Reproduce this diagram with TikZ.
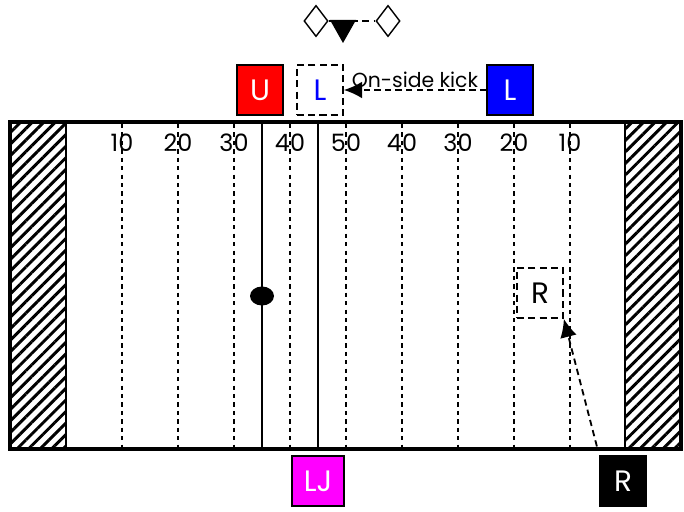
\documentclass[tikz,border=0pt]{standalone}
\usepackage{fontspec}
\setmainfont{Poppins}
\usetikzlibrary{arrows.meta,shapes.geometric,patterns.meta}
\definecolor{offred}{RGB}{255, 0, 0}
\definecolor{offblue}{RGB}{0, 0, 255}
\definecolor{offmagenta}{RGB}{255, 0, 255}

\tikzset{
  official/.style={draw=black, line width=1.2pt, minimum width=1.15cm, minimum height=1.25cm,
    inner sep=0pt, text=white, font=\fontsize{21}{21}\selectfont},
  ghost/.style={draw=black, dash pattern=on 5pt off 3pt, line width=1.2pt, minimum width=1.15cm,
    minimum height=1.25cm, inner sep=0pt, font=\fontsize{21}{21}\selectfont},
  chain/.style={diamond, draw=black, line width=1pt, minimum width=0.6cm, minimum height=0.78cm, inner sep=0pt},
  yardline/.style={dashed, line width=0.8pt},
  yardnum/.style={font=\fontsize{17}{17}\selectfont, inner sep=0pt},
  kick/.style={dash pattern=on 4.5pt off 3pt, line width=1.3pt, -{Latex[length=13pt,width=12pt]}},
}

\begin{document}
\begin{tikzpicture}[x=0.025cm,y=-0.025cm]
\useasboundingbox (0,0) rectangle (684,512);
% End zones
\foreach \xa/\xb in {10/66, 625/681} {
    \pattern[pattern={Lines[angle=45,distance=5.8pt,line width=2.1pt]}] (\xa,122) rectangle (\xb,449);
    \draw[line width=1pt] (\xa,122) rectangle (\xb,449);
}
% Yard lines and numbers
\foreach \yd [count=\i] in {10,20,30,40,50,40,30,20,10} {
    \draw[yardline] (66+56*\i,124) -- (66+56*\i,447);
    \node[yardnum] (num\i) at (66+56*\i,143) {\yd};
}
% Line of scrimmage and line to gain
\draw[line width=1.6pt] (262,124) -- (262,447);
\draw[line width=1.6pt] (318,124) -- (318,447);
% Ball
\fill (262,296) ellipse (12 and 9.5);
% Field border
\draw[line width=3.5pt] (10,122) rectangle (681,449);

% Chain crew and down marker
\node[chain] (chainL) at (316,21) {};
\node[chain] (chainR) at (388,21) {};
\draw[dash pattern=on 5pt off 3pt, line width=1.5pt] (chainL) -- (chainR);
\fill (330,20) -- (356,20) -- (343,43) -- cycle;

% Officials before the kick
\node[official, fill=offred] (U) at (260,90) {U};
\node[ghost, text=offblue] (Lnew) at (320,90) {L};
\node[official, fill=offblue] (L) at (510,90) {L};
\draw[kick] (L) -- node[above, inner sep=1pt, font=\fontsize{14.5}{14.5}\selectfont] {On-side kick} (Lnew);

\node[official, fill=offmagenta, minimum width=1.3cm] (LJ) at (318,481) {LJ};
\node[official, fill=black] (R) at (623,481) {R};
\node[ghost] (Rnew) at (540,293) {R};
\draw[kick, shorten <=0.225cm] (R.north west) -- (Rnew.south east);
\end{tikzpicture}
\end{document}
